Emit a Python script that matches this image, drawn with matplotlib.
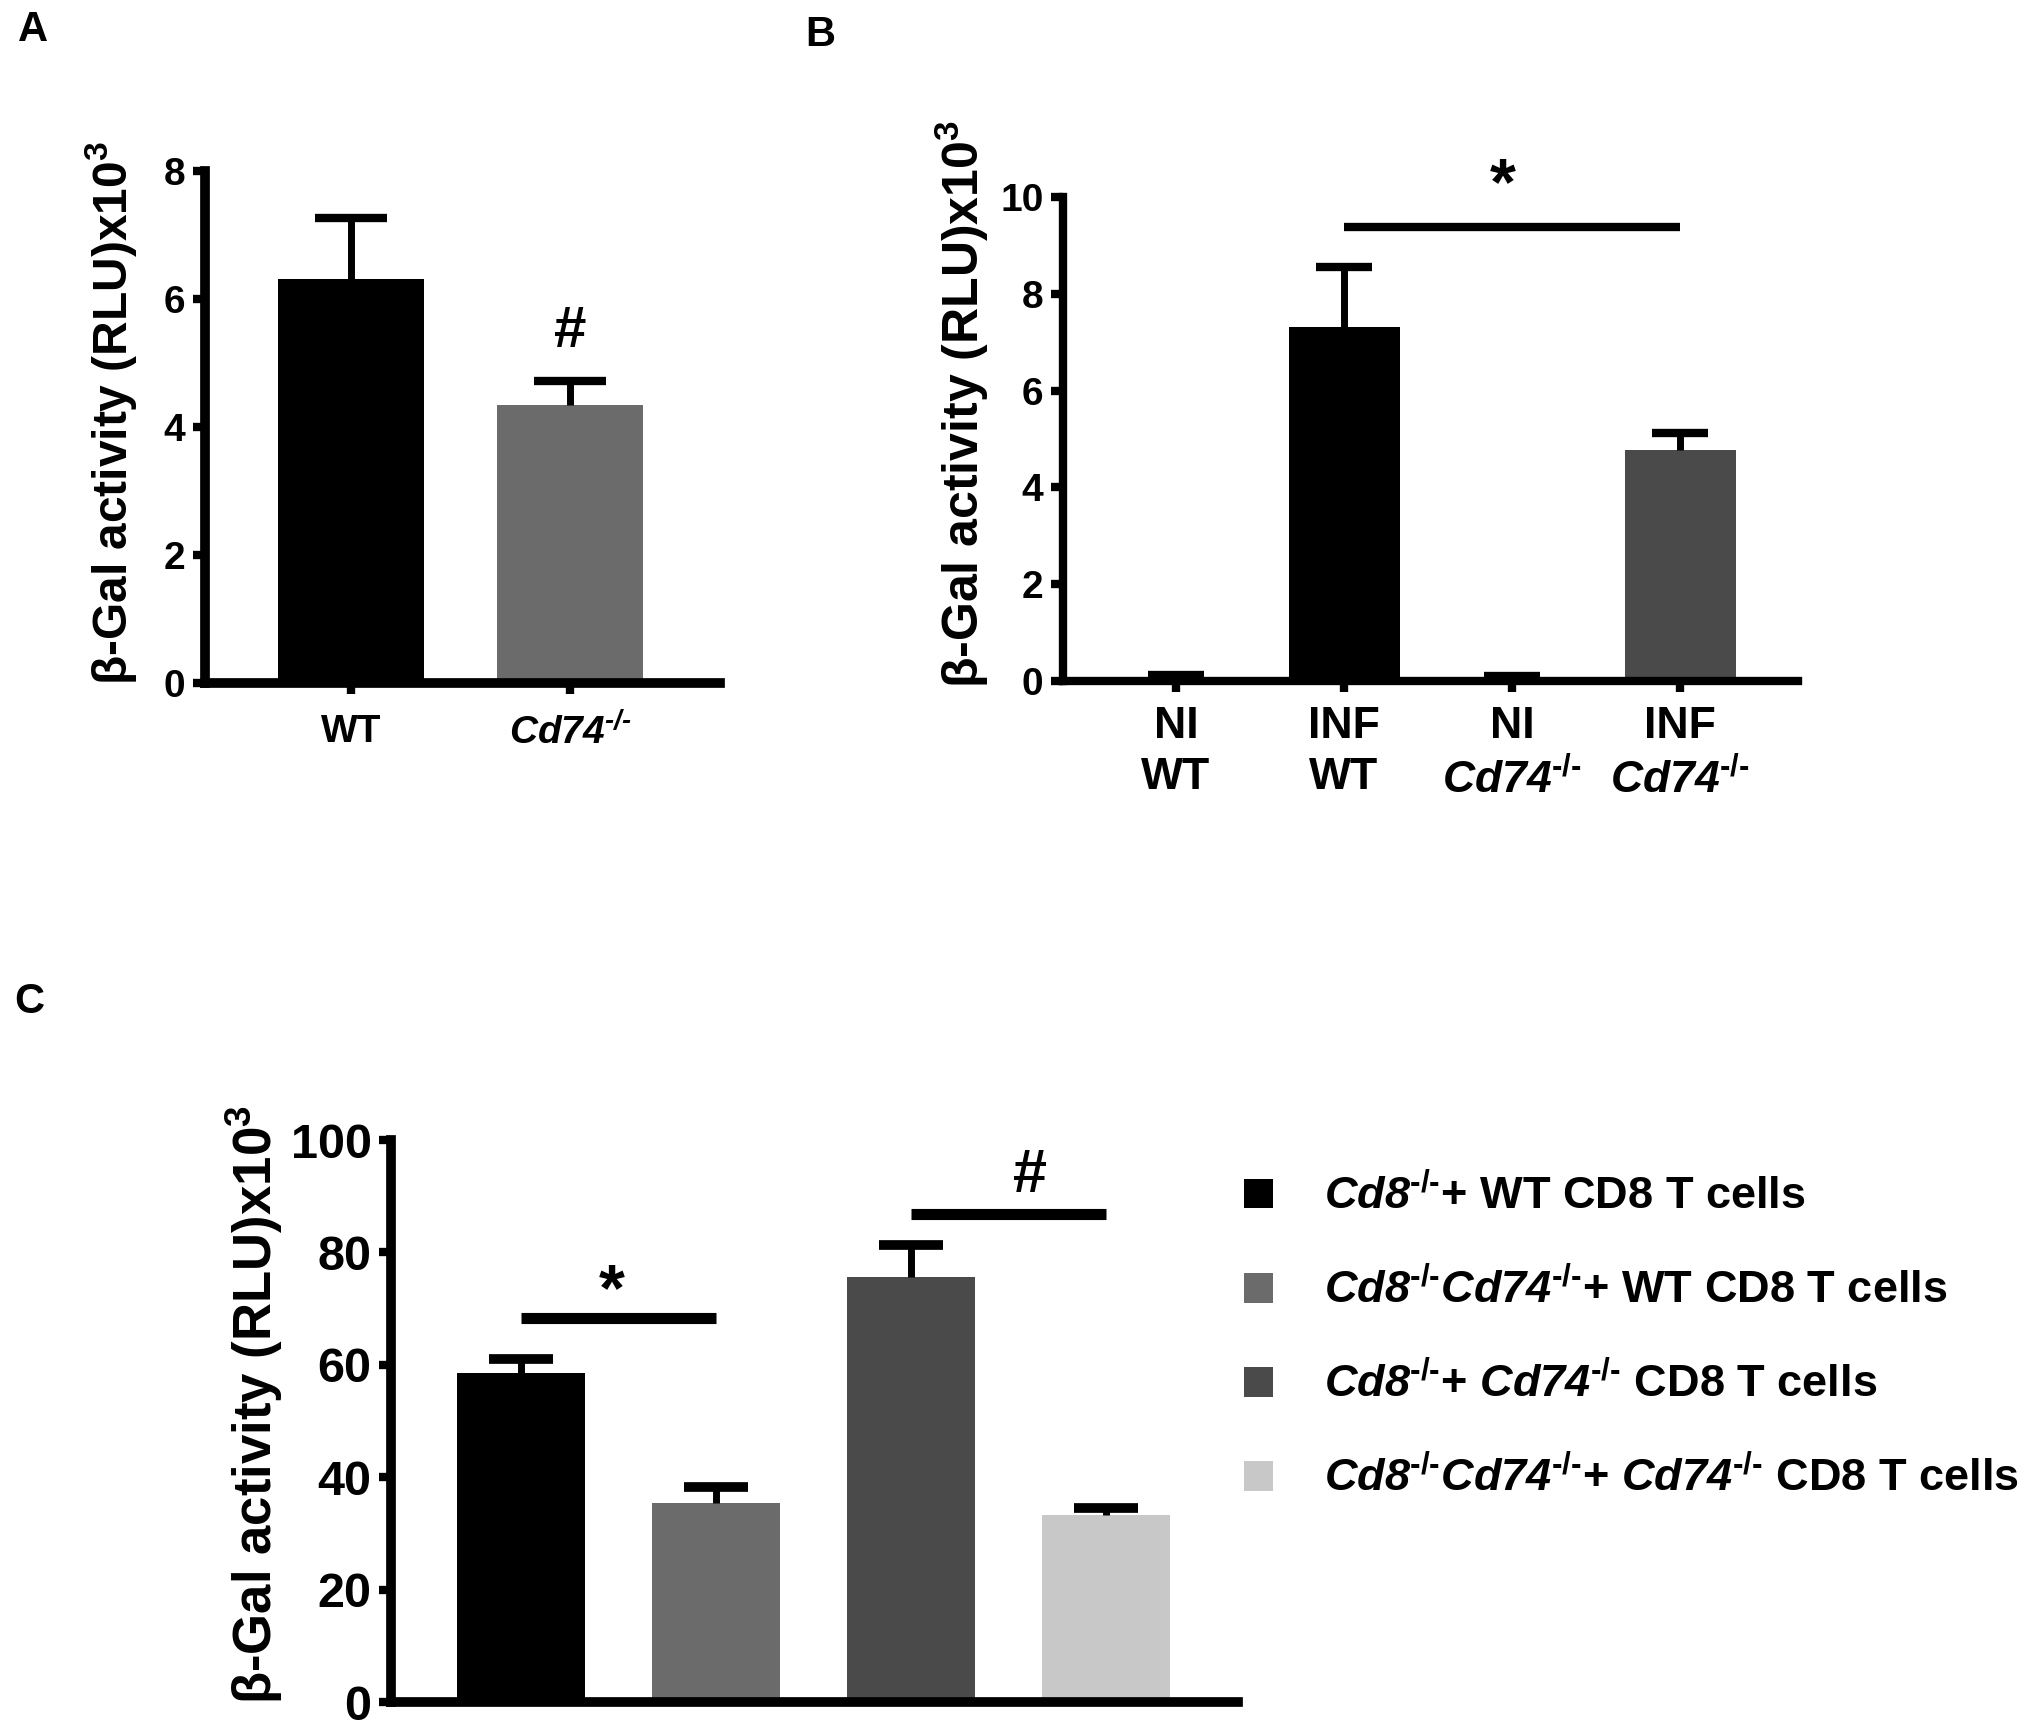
import matplotlib
matplotlib.use('Agg')
import matplotlib.pyplot as plt
import numpy as np

plt.rcParams['font.family'] = 'Liberation Sans'
plt.rcParams['font.weight'] = 'bold'
plt.rcParams['mathtext.fontset'] = 'custom'
plt.rcParams['mathtext.default'] = 'regular'
plt.rcParams['mathtext.it'] = 'Liberation Sans:italic:bold'
# digits inside \mathit fall back to the rm font, so keep it italic too
plt.rcParams['mathtext.rm'] = 'Liberation Sans:italic:bold'
plt.rcParams['mathtext.bf'] = 'Liberation Sans:bold'

KO = '$^{\u2010/\u2010}$'
KOm = '^{\u2010/\u2010}'

# ---- data ----
a_labels = ['WT', 'Cd74' + KO]
a_mean = [6.31, 4.34]
a_err = [0.96, 0.38]
a_colors = ['#000000', '#6b6b6b']

b_labels = ['NI\nWT', 'INF\nWT', 'NI\n$\\mathit{Cd74}' + KOm + '$', 'INF\n$\\mathit{Cd74}' + KOm + '$']
b_mean = [0.05, 7.32, 0.04, 4.78]
b_err = [0.07, 1.23, 0.07, 0.34]
b_colors = ['#000000', '#000000', '#4a4a4a', '#4a4a4a']

c_labels = ['$\\mathit{Cd8}' + KOm + '$+ WT CD8 T cells',
            '$\\mathit{Cd8}' + KOm + '\\mathit{Cd74}' + KOm + '$+ WT CD8 T cells',
            '$\\mathit{Cd8}' + KOm + '$+ $\\mathit{Cd74}' + KOm + '$ CD8 T cells',
            '$\\mathit{Cd8}' + KOm + '\\mathit{Cd74}' + KOm + '$+ $\\mathit{Cd74}' + KOm + '$ CD8 T cells']
c_mean = [58.5, 35.4, 75.7, 33.3]
c_err = [2.5, 2.8, 5.6, 1.2]
c_colors = ['#000000', '#6b6b6b', '#4a4a4a', '#c8c8c8']

ylab = 'β-Gal activity (RLU)x10$^{3}$'

W, H = 2040, 1726
fig = plt.figure(figsize=(W / 100, H / 100), dpi=100)


def px_axes(l, r, b, t):
    return fig.add_axes([l / W, 1 - b / H, (r - l) / W, (b - t) / H])


def style(ax, lw=7):
    for s in ['top', 'right']:
        ax.spines[s].set_visible(False)
    for s in ['left', 'bottom']:
        ax.spines[s].set_linewidth(lw)
    ax.tick_params(axis='y', length=9, width=6, pad=5)
    ax.tick_params(axis='x', length=8, width=6)


def draw_bars(ax, mean, err, colors, width, capsize, capthick):
    x = np.arange(len(mean))
    bars = ax.bar(x, mean, width=width, color=colors, yerr=[np.zeros(len(err)), err],
                  capsize=capsize, error_kw=dict(elinewidth=5, capthick=capthick, ecolor='black'))
    # only the upper cap is shown
    for cap in bars.errorbar.lines[1]:
        if np.allclose(cap.get_ydata(), mean):
            cap.set_visible(False)
    return x, bars


# ---- panel A ----
axA = px_axes(205, 720, 683, 171)
xa, _ = draw_bars(axA, a_mean, a_err, a_colors, 0.667, 26, 6)
axA.set_xlim(-0.667, 1.685)
axA.set_ylim(0, 8)
axA.set_yticks([0, 2, 4, 6, 8])
axA.set_xticks(xa)
axA.set_xticklabels(a_labels)
axA.get_xticklabels()[1].set_fontstyle('italic')
style(axA)
axA.tick_params(axis='y', labelsize=28)
axA.tick_params(axis='x', labelsize=28, pad=14)
axA.text(1, 5.48, '#', ha='center', va='center', fontsize=42, fontweight='bold')

# ---- panel B ----
axB = px_axes(1063, 1798, 681, 197)
xb, _ = draw_bars(axB, b_mean, b_err, b_colors, 0.66, 20, 6)
axB.set_xlim(-0.673, 3.702)
axB.set_ylim(0, 10)
axB.set_yticks([0, 2, 4, 6, 8, 10])
axB.set_xticks(xb)
axB.set_xticklabels(b_labels, linespacing=1.3)
style(axB, lw=6)
axB.tick_params(axis='y', labelsize=28)
axB.tick_params(axis='x', labelsize=32, pad=10)
axB.plot([1, 3], [9.37, 9.37], color='black', lw=6, solid_capstyle='butt', clip_on=False)
axB.text(1.946, 10.2, '*', ha='center', va='center', fontsize=48, fontweight='bold')

# ---- panel C ----
axC = px_axes(391, 1238, 1702, 1140)
xc, bars = draw_bars(axC, c_mean, c_err, c_colors, 0.66, 23, 7)
axC.set_xlim(-0.667, 3.677)
axC.set_ylim(0, 100)
axC.set_yticks([0, 20, 40, 60, 80, 100])
axC.set_xticks([])
style(axC)
axC.tick_params(axis='y', labelsize=35)
axC.plot([0, 1], [68.3, 68.3], color='black', lw=8, solid_capstyle='butt')
axC.plot([2, 3], [86.8, 86.8], color='black', lw=8, solid_capstyle='butt')
axC.text(0.467, 72.7, '*', ha='center', va='center', fontsize=48, fontweight='bold')
axC.text(2.61, 93.5, '#', ha='center', va='center', fontsize=44, fontweight='bold')

leg = axC.legend(bars, c_labels, loc='upper left', bbox_to_anchor=(1244 / W, 1 - 1174 / H),
                 bbox_transform=fig.transFigure, frameon=False, borderpad=0, borderaxespad=0,
                 prop=dict(family='Liberation Sans', weight='bold', size=32.5),
                 handlelength=0.64, handleheight=0.64, handletextpad=1.13, labelspacing=1.1)

# ---- y labels and panel letters ----
fig.text(111 / W, 1 - 413 / H, ylab, rotation=90, ha='center', va='center', fontsize=34.5)
fig.text(962 / W, 1 - 404 / H, ylab, rotation=90, ha='center', va='center', fontsize=36)
fig.text(254 / W, 1 - 1404 / H, ylab, rotation=90, ha='center', va='center', fontsize=38)
fig.text(33 / W, 1 - 30 / H, 'A', ha='center', va='center', fontsize=30)
fig.text(820 / W, 1 - 35 / H, 'B', ha='center', va='center', fontsize=30)
fig.text(29 / W, 1 - 1002 / H, 'C', ha='center', va='center', fontsize=30)

fig.savefig('out.png', dpi=100)
